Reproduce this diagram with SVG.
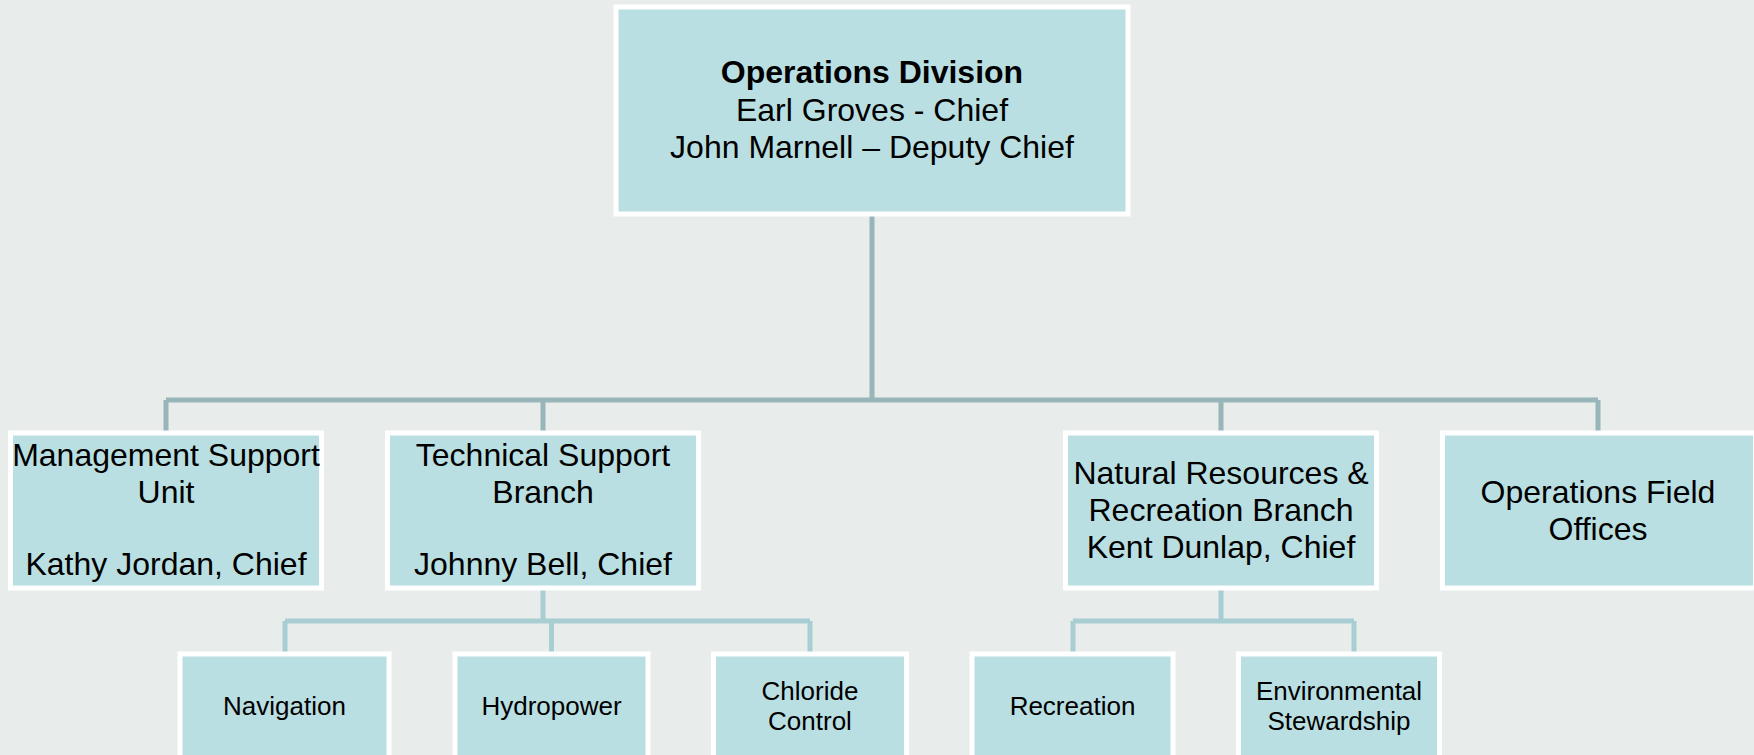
<svg xmlns="http://www.w3.org/2000/svg" width="1754" height="755" viewBox="0 0 1754 755">
<style>
.box{fill:#BADFE2;stroke:#FFFFFF;stroke-width:5}
.t{font-family:"Liberation Sans",Arial,sans-serif;fill:#000;text-anchor:middle}
.l2{font-size:32px}
.l3{font-size:26px}
.c1{fill:none;stroke:#98B5BA;stroke-width:5}
.c2{fill:none;stroke:#A8CDD2;stroke-width:5}
</style>
<rect x="0" y="0" width="1754" height="755" fill="#E8ECEB"/>
<g id="connectors">
<path class="c1" d="M872 216V400M166 400H1598M166 400V431M543 400V431M1221 400V431M1598 400V431"/>
<path class="c2" d="M543 588V621M285 621H810M285 621V654M551.5 621V654M810 621V654"/>
<path class="c2" d="M1221 588V621M1073 621H1354M1073 621V654M1354 621V654"/>
</g>
<g id="operations-division">
<rect class="box" x="616" y="7" width="512" height="207"/>
<text class="t l2" x="872" y="83" font-weight="bold">Operations Division</text>
<text class="t l2" x="872" y="121">Earl Groves - Chief</text>
<text class="t l2" x="872" y="158">John Marnell – Deputy Chief</text>
</g>
<g id="management-support">
<rect class="box" x="10.5" y="433" width="311" height="155"/>
<text class="t l2" x="166" y="466">Management Support</text>
<text class="t l2" x="166" y="503">Unit</text>
<text class="t l2" x="166" y="575">Kathy Jordan, Chief</text>
</g>
<g id="technical-support">
<rect class="box" x="387.5" y="433" width="311" height="155"/>
<text class="t l2" x="543" y="466">Technical Support</text>
<text class="t l2" x="543" y="503">Branch</text>
<text class="t l2" x="543" y="575">Johnny Bell, Chief</text>
</g>
<g id="natural-resources">
<rect class="box" x="1065.5" y="433" width="311" height="155"/>
<text class="t l2" x="1221" y="484">Natural Resources &amp;</text>
<text class="t l2" x="1221" y="521">Recreation Branch</text>
<text class="t l2" x="1221" y="558">Kent Dunlap, Chief</text>
</g>
<g id="operations-field-offices">
<rect class="box" x="1442.5" y="433" width="313" height="155"/>
<text class="t l2" x="1598" y="503">Operations Field</text>
<text class="t l2" x="1598" y="540">Offices</text>
</g>
<g id="navigation">
<rect class="box" x="180" y="654" width="209" height="106"/>
<text class="t l3" x="284.5" y="715">Navigation</text>
</g>
<g id="hydropower">
<rect class="box" x="455" y="654" width="193" height="106"/>
<text class="t l3" x="551.5" y="715">Hydropower</text>
</g>
<g id="chloride-control">
<rect class="box" x="713.5" y="654" width="193" height="106"/>
<text class="t l3" x="810" y="700">Chloride</text>
<text class="t l3" x="810" y="730">Control</text>
</g>
<g id="recreation">
<rect class="box" x="972" y="654" width="201" height="106"/>
<text class="t l3" x="1072.5" y="715">Recreation</text>
</g>
<g id="environmental-stewardship">
<rect class="box" x="1238.5" y="654" width="201" height="106"/>
<text class="t l3" x="1339" y="700">Environmental</text>
<text class="t l3" x="1339" y="730">Stewardship</text>
</g>
</svg>
